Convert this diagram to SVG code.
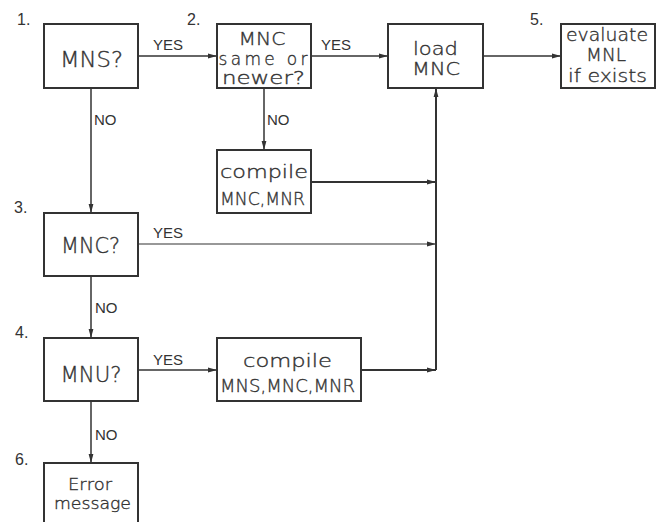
<svg xmlns="http://www.w3.org/2000/svg" width="659" height="522" viewBox="0 0 659 522">
<defs>
<style>
.box{fill:#fff;stroke:#333;stroke-width:2}
.c{fill:none;stroke:#333;stroke-width:1.5}
.t{font-family:"DejaVu Sans","Liberation Sans",sans-serif;font-weight:200;fill:#333;stroke:#333;stroke-width:0.35;text-anchor:middle}
.b{font-size:21px}
.s{font-size:17px}
.e{font-size:16px}
.l{font-family:"Liberation Sans",Arial,sans-serif;fill:#333;font-size:15px}
.n{font-family:"Liberation Sans",Arial,sans-serif;fill:#333;font-size:16px}
</style>
<marker id="a" markerUnits="userSpaceOnUse" markerWidth="10" markerHeight="6" refX="9" refY="3" orient="auto">
<path d="M0,0.6 L9,3 L0,5.4 Z" fill="#333"/>
</marker>
</defs>
<rect width="659" height="522" fill="#fff"/>
<g id="connectors">
<line class="c" x1="138" y1="56" x2="217" y2="56" marker-end="url(#a)"/>
<line class="c" x1="311" y1="56" x2="388" y2="56" marker-end="url(#a)"/>
<line class="c" x1="483" y1="56" x2="561" y2="56" marker-end="url(#a)"/>
<line class="c" x1="264" y1="88" x2="264" y2="150" marker-end="url(#a)"/>
<line class="c" style="stroke-width:2" x1="311" y1="182" x2="436" y2="182" marker-end="url(#a)"/>
<line class="c" x1="91" y1="88" x2="91" y2="213" marker-end="url(#a)"/>
<line class="c" style="stroke-width:1.2" x1="138" y1="244" x2="436" y2="244" marker-end="url(#a)"/>
<line class="c" x1="91" y1="276" x2="91" y2="338" marker-end="url(#a)"/>
<line class="c" x1="138" y1="370" x2="217" y2="370" marker-end="url(#a)"/>
<line class="c" style="stroke-width:2" x1="361" y1="370" x2="436" y2="370" marker-end="url(#a)"/>
<line class="c" style="stroke-width:2" x1="436" y1="370" x2="436" y2="88" marker-end="url(#a)"/>
<line class="c" x1="91" y1="401" x2="91" y2="463" marker-end="url(#a)"/>
<text class="l" x="153" y="50">YES</text>
<text class="l" x="321" y="50">YES</text>
<text class="l" x="94" y="125">NO</text>
<text class="l" x="267" y="125">NO</text>
<text class="l" x="153" y="238">YES</text>
<text class="l" x="95" y="313">NO</text>
<text class="l" x="153" y="365">YES</text>
<text class="l" x="95" y="440">NO</text>
</g>
<g id="labels">
<text class="n" x="17" y="25">1.</text>
<text class="n" x="187" y="25">2.</text>
<text class="n" x="530" y="25">5.</text>
<text class="n" x="14" y="213">3.</text>
<text class="n" x="15" y="338">4.</text>
<text class="n" x="15" y="465">6.</text>
</g>
<g id="n1">
<rect class="box" x="44" y="24" width="94" height="64"/>
<text class="t b" x="91.5" y="67" textLength="63" lengthAdjust="spacingAndGlyphs">MNS?</text>
</g>
<g id="n2">
<rect class="box" x="217" y="24" width="94" height="64"/>
<text class="t s" x="262" y="45" textLength="47" lengthAdjust="spacingAndGlyphs">MNC</text>
<text class="t s" x="263" y="65" textLength="89" lengthAdjust="spacing">same or</text>
<text class="t s" x="263.5" y="84" textLength="83" lengthAdjust="spacingAndGlyphs">newer?</text>
</g>
<g id="load">
<rect class="box" x="388" y="24" width="95" height="64"/>
<text class="t s" x="435.5" y="55" textLength="45" lengthAdjust="spacingAndGlyphs">load</text>
<text class="t s" x="436" y="75" textLength="48" lengthAdjust="spacingAndGlyphs">MNC</text>
</g>
<g id="n5">
<rect class="box" x="561" y="24" width="94" height="64"/>
<text class="t s" x="607" y="41" textLength="82" lengthAdjust="spacingAndGlyphs">evaluate</text>
<text class="t s" x="606" y="61" textLength="40" lengthAdjust="spacingAndGlyphs">MNL</text>
<text class="t s" x="607.5" y="82" textLength="79" lengthAdjust="spacingAndGlyphs">if exists</text>
</g>
<g id="compile1">
<rect class="box" x="217" y="150" width="94" height="63"/>
<text class="t s" x="264" y="178" textLength="88" lengthAdjust="spacingAndGlyphs">compile</text>
<text class="t s" x="262.5" y="205" textLength="85" lengthAdjust="spacingAndGlyphs">MNC,MNR</text>
</g>
<g id="n3">
<rect class="box" x="44" y="213" width="94" height="63"/>
<text class="t b" x="90.5" y="253" textLength="59" lengthAdjust="spacingAndGlyphs">MNC?</text>
</g>
<g id="n4">
<rect class="box" x="44" y="338" width="94" height="63"/>
<text class="t b" x="91" y="382" textLength="61" lengthAdjust="spacingAndGlyphs">MNU?</text>
</g>
<g id="compile2">
<rect class="box" x="217" y="338" width="144" height="63"/>
<text class="t s" x="287.5" y="367" textLength="89" lengthAdjust="spacingAndGlyphs">compile</text>
<text class="t s" x="287.5" y="392" textLength="135" lengthAdjust="spacingAndGlyphs">MNS,MNC,MNR</text>
</g>
<g id="n6">
<rect class="box" x="44" y="463" width="94" height="64"/>
<text class="t e" x="90" y="490" textLength="44" lengthAdjust="spacingAndGlyphs">Error</text>
<text class="t e" x="92.5" y="509" textLength="77" lengthAdjust="spacingAndGlyphs">message</text>
</g>
</svg>
